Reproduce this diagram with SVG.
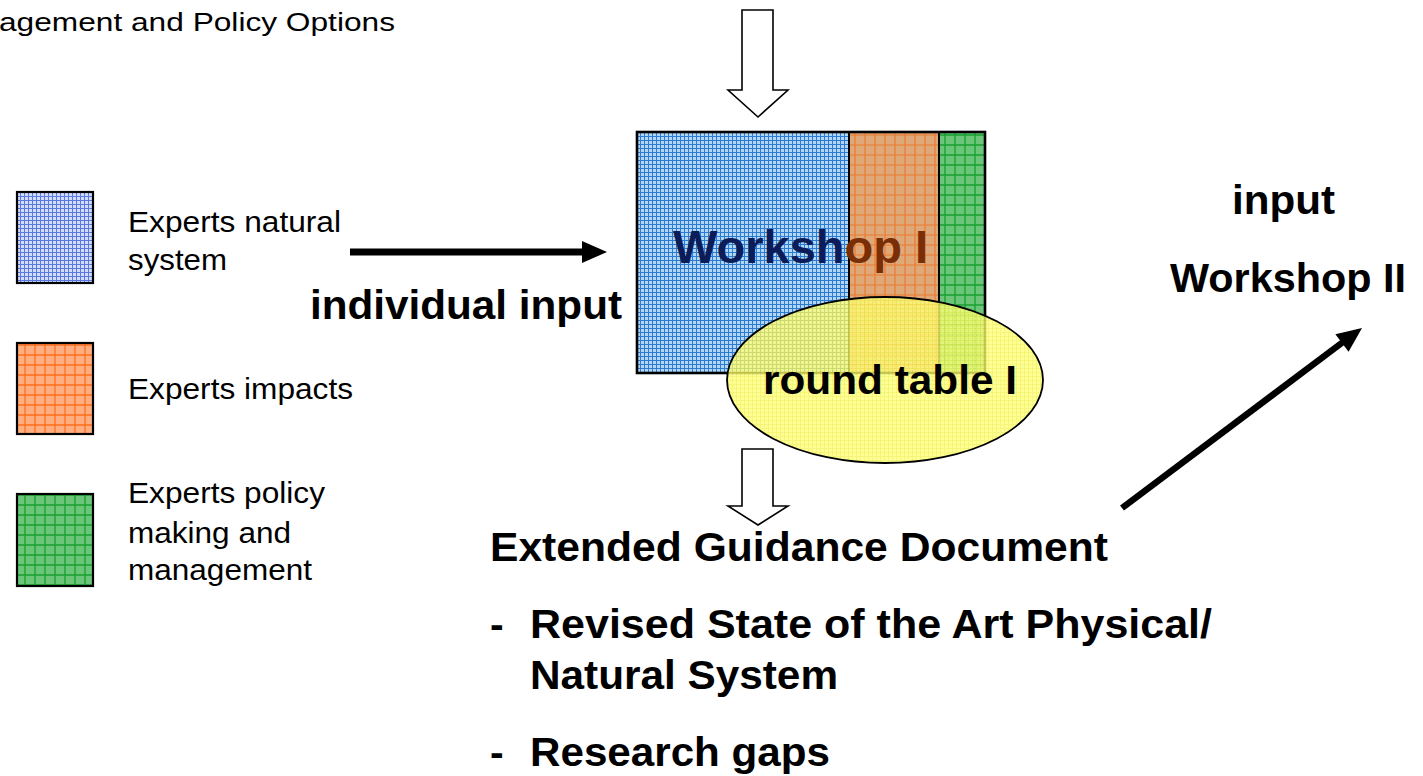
<svg xmlns="http://www.w3.org/2000/svg" width="1423" height="776" viewBox="0 0 1423 776">
<style>
.t{font-family:"Liberation Sans",Arial,sans-serif;fill:#000}
.b{font-weight:bold}
.hollow{fill:#fff;stroke:#000;stroke-width:1.6;stroke-linejoin:miter}
.box{stroke:#000;stroke-width:2.2}
.conn{stroke:#000;fill:none}
</style>
<defs>
<pattern id="pBlue" width="4" height="4" patternUnits="userSpaceOnUse">
<rect width="4" height="4" fill="#b4d6f2"/>
<path d="M0 0.5H4M0.5 0V4" stroke="#2a7bd2" stroke-width="1"/>
</pattern>
<pattern id="pBlueL" width="4" height="4" patternUnits="userSpaceOnUse">
<rect width="4" height="4" fill="#d4ddf8"/>
<path d="M0 0.5H4M0.5 0V4" stroke="#5a78e2" stroke-width="1"/>
</pattern>
<pattern id="pOrange" width="10" height="10" patternUnits="userSpaceOnUse">
<rect width="10" height="10" fill="#dfa878"/>
<path d="M0 5H10M5 0V10" stroke="#ee7a30" stroke-width="1.2"/>
</pattern>
<pattern id="pOrangeL" width="10" height="10" patternUnits="userSpaceOnUse">
<rect width="10" height="10" fill="#ffae82"/>
<path d="M0 5H10M5 0V10" stroke="#ff6e1a" stroke-width="1.3"/>
</pattern>
<pattern id="pGreen" width="10" height="10" patternUnits="userSpaceOnUse">
<rect width="10" height="10" fill="#6cc67a"/>
<path d="M0 5H10M5 0V10" stroke="#16a02e" stroke-width="1.3"/>
</pattern>
<pattern id="pYellow" width="4" height="4" patternUnits="userSpaceOnUse">
<rect width="4" height="4" fill="#ffff7a"/>
<path d="M0 0.5H4M0.5 0V4" stroke="#f2f256" stroke-width="1"/>
</pattern>
</defs>

<g id="title">
<text class="t" x="-1" y="31" font-size="26" textLength="396" lengthAdjust="spacingAndGlyphs">agement and Policy Options</text>
</g>

<g id="legend-natural">
<rect class="box" x="17" y="192" width="76" height="91" fill="url(#pBlueL)"/>
<text class="t" x="128" y="232" font-size="29.5" textLength="213" lengthAdjust="spacingAndGlyphs">Experts natural</text>
<text class="t" x="128" y="270" font-size="29.5" textLength="99" lengthAdjust="spacingAndGlyphs">system</text>
</g>
<g id="legend-impacts">
<rect class="box" x="17" y="343" width="76" height="91" fill="url(#pOrangeL)"/>
<text class="t" x="128" y="399" font-size="29.5" textLength="225" lengthAdjust="spacingAndGlyphs">Experts impacts</text>
</g>
<g id="legend-policy">
<rect class="box" x="17" y="494" width="76" height="92" fill="url(#pGreen)"/>
<text class="t" x="128" y="503" font-size="29.5" textLength="197" lengthAdjust="spacingAndGlyphs">Experts policy</text>
<text class="t" x="128" y="543" font-size="29.5" textLength="163" lengthAdjust="spacingAndGlyphs">making and</text>
<text class="t" x="128" y="580" font-size="29.5" textLength="184" lengthAdjust="spacingAndGlyphs">management</text>
</g>

<g id="workshop-I">
<rect x="637" y="132" width="212" height="241" fill="url(#pBlue)"/>
<rect x="849" y="132" width="90" height="241" fill="url(#pOrange)"/>
<rect x="939" y="132" width="46" height="241" fill="url(#pGreen)"/>
<path d="M849 132V373M939 132V373" stroke="#000" stroke-width="2"/>
<rect x="637" y="132" width="348" height="241" fill="none" stroke="#000" stroke-width="2.6"/>
<text class="t b" x="673" y="263" font-size="47"><tspan fill="#0c1c58">Worksh</tspan><tspan fill="#7a2e06">op I</tspan></text>
</g>

<g id="round-table-I">
<ellipse cx="885" cy="380" rx="158" ry="83" fill="url(#pYellow)" fill-opacity="0.8" stroke="none"/>
<ellipse cx="885" cy="380" rx="158" ry="83" fill="none" stroke="#000" stroke-width="1.8"/>
<text class="t b" x="763" y="394" font-size="41" textLength="254" lengthAdjust="spacingAndGlyphs">round table I</text>
</g>

<g id="individual-input">
<text class="t b" x="310" y="319" font-size="40" textLength="312" lengthAdjust="spacingAndGlyphs">individual input</text>
</g>

<g id="workshop-II">
<text class="t b" x="1232" y="214" font-size="40" textLength="103" lengthAdjust="spacingAndGlyphs">input</text>
<text class="t b" x="1170" y="292" font-size="40" textLength="236" lengthAdjust="spacingAndGlyphs">Workshop II</text>
</g>

<g id="guidance-document">
<text class="t b" x="490" y="561" font-size="41" textLength="618" lengthAdjust="spacingAndGlyphs">Extended Guidance Document</text>
<text class="t b" x="490" y="638" font-size="41">-</text>
<text class="t b" x="530" y="638" font-size="41" textLength="682" lengthAdjust="spacingAndGlyphs">Revised State of the Art Physical/</text>
<text class="t b" x="530" y="689" font-size="41" textLength="308" lengthAdjust="spacingAndGlyphs">Natural System</text>
<text class="t b" x="490" y="766" font-size="41">-</text>
<text class="t b" x="530" y="766" font-size="41" textLength="300" lengthAdjust="spacingAndGlyphs">Research gaps</text>
</g>

<g id="connectors">
<polygon class="hollow" points="742,10 773,10 773,90 788,90 758,117 728,90 742,90"/>
<polygon class="hollow" points="742,449 773,449 773,506 788,506 758,525 728,506 742,506"/>
<line class="conn" x1="350" y1="252" x2="585" y2="252" stroke-width="7"/>
<polygon points="582,241 607,252 582,263" fill="#000"/>
<line class="conn" x1="1122" y1="508" x2="1343" y2="342" stroke-width="6.5"/>
<polygon points="1362,328 1348.6,351.8 1335.4,334.2" fill="#000"/>
</g>
</svg>
